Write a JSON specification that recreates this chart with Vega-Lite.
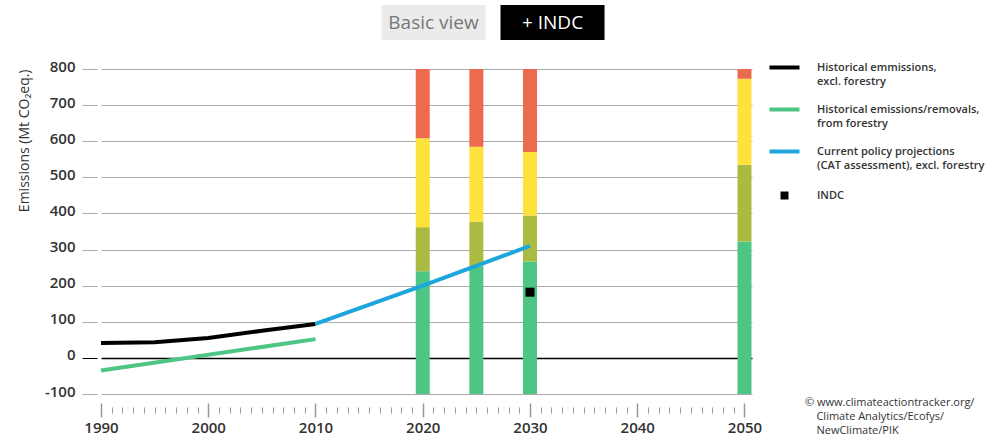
{
  "$schema": "https://vega.github.io/schema/vega-lite/v6.json",
  "background": "white",
  "padding": {"left": 17, "top": 5, "right": 0, "bottom": 0},
  "spacing": 19,
  "center": true,
  "resolve": {"scale": {"fill": "independent", "color": "independent", "shape": "independent"}},
  "config": {"view": {"stroke": null}, "font": "Open Sans"},
  "datasets": {
    "buttons": [
      {"button": "Basic view", "state": "inactive"},
      {"button": "+ INDC", "state": "active"}
    ],
    "ratings": [
      {"year": 2020, "rating": "Role model", "lo": -100, "hi": 240},
      {"year": 2020, "rating": "Sufficient", "lo": 240, "hi": 362},
      {"year": 2020, "rating": "Medium", "lo": 362, "hi": 608},
      {"year": 2020, "rating": "Inadequate", "lo": 608, "hi": 800},
      {"year": 2025, "rating": "Role model", "lo": -100, "hi": 254},
      {"year": 2025, "rating": "Sufficient", "lo": 254, "hi": 377},
      {"year": 2025, "rating": "Medium", "lo": 377, "hi": 585},
      {"year": 2025, "rating": "Inadequate", "lo": 585, "hi": 800},
      {"year": 2030, "rating": "Role model", "lo": -100, "hi": 267},
      {"year": 2030, "rating": "Sufficient", "lo": 267, "hi": 394},
      {"year": 2030, "rating": "Medium", "lo": 394, "hi": 570},
      {"year": 2030, "rating": "Inadequate", "lo": 570, "hi": 800},
      {"year": 2050, "rating": "Role model", "lo": -100, "hi": 322},
      {"year": 2050, "rating": "Sufficient", "lo": 322, "hi": 535},
      {"year": 2050, "rating": "Medium", "lo": 535, "hi": 773},
      {"year": 2050, "rating": "Inadequate", "lo": 773, "hi": 800}
    ],
    "lines": [
      {"series": "Historical emmissions, excl. forestry", "year": 1990, "value": 41},
      {"series": "Historical emmissions, excl. forestry", "year": 1995, "value": 43},
      {"series": "Historical emmissions, excl. forestry", "year": 2000, "value": 55},
      {"series": "Historical emmissions, excl. forestry", "year": 2005, "value": 75},
      {"series": "Historical emmissions, excl. forestry", "year": 2010, "value": 94},
      {"series": "Historical emissions/removals, from forestry", "year": 1990, "value": -35},
      {"series": "Historical emissions/removals, from forestry", "year": 2010, "value": 52},
      {"series": "Current policy projections (CAT assessment), excl. forestry", "year": 2010, "value": 94},
      {"series": "Current policy projections (CAT assessment), excl. forestry", "year": 2020, "value": 200},
      {"series": "Current policy projections (CAT assessment), excl. forestry", "year": 2030, "value": 310}
    ],
    "indc": [
      {"series": "INDC", "year": 2030, "value": 182}
    ]
  },
  "vconcat": [
    {
      "width": 323,
      "height": 35,
      "data": {"name": "buttons"},
      "encoding": {
        "x": {"field": "button", "type": "nominal", "sort": null, "axis": null,
              "scale": {"paddingInner": 0.126, "paddingOuter": 0.42, "align": 0}}
      },
      "layer": [
        {
          "mark": {"type": "bar"},
          "encoding": {
            "fill": {"field": "state", "type": "nominal", "legend": null,
                     "scale": {"domain": ["inactive", "active"], "range": ["#ebebeb", "#000000"]}}
          }
        },
        {
          "mark": {"type": "text", "fontSize": 19, "font": "Open Sans"},
          "encoding": {
            "text": {"field": "button"},
            "color": {"field": "state", "type": "nominal", "legend": null,
                      "scale": {"domain": ["inactive", "active"], "range": ["#777777", "#ffffff"]}}
          }
        }
      ]
    },
    {
      "width": 651,
      "height": 325,
      "title": {
        "text": ["© www.climateactiontracker.org/", "\u200b\u00a0\u00a0\u00a0\u00a0Climate Analytics/Ecofys/", "\u200b\u00a0\u00a0\u00a0\u00a0NewClimate/PIK"],
        "orient": "bottom", "anchor": "end", "align": "left", "frame": "group",
        "fontSize": 11, "fontWeight": "normal", "color": "#333", "lineHeight": 14,
        "font": "Open Sans", "dx": 53, "dy": -38, "offset": 0
      },
      "encoding": {
        "x": {
          "field": "year", "type": "quantitative",
          "scale": {"domain": [1990, 2050.7], "nice": false, "zero": false, "padding": 0},
          "axis": {
            "title": null,
            "values": [1990,1991,1992,1993,1994,1995,1996,1997,1998,1999,2000,2001,2002,2003,2004,2005,2006,2007,2008,2009,2010,2011,2012,2013,2014,2015,2016,2017,2018,2019,2020,2021,2022,2023,2024,2025,2026,2027,2028,2029,2030,2031,2032,2033,2034,2035,2036,2037,2038,2039,2040,2041,2042,2043,2044,2045,2046,2047,2048,2049,2050],
            "format": "d",
            "labelExpr": "datum.value % 10 === 0 ? datum.label : ''",
            "domain": false, "grid": false, "offset": 9,
            "tickColor": "#999",
            "tickSize": {"condition": {"test": "datum.value % 10 === 0", "value": 14}, "value": 10},
            "tickDash": {"condition": {"test": "datum.value % 10 === 0", "value": [20, 0]}, "value": [0, 4, 6, 20]},
            "tickWidth": {"condition": {"test": "datum.value % 10 === 0", "value": 1.5}, "value": 1},
            "labelPadding": 3, "labelFontSize": 15, "labelFontWeight": 600, "labelColor": "#333",
            "labelFlush": false, "labelOverlap": false
          }
        },
        "y": {
          "field": "value", "type": "quantitative",
          "scale": {"domain": [-100, 800], "nice": false, "zero": false, "padding": 0},
          "axis": {
            "title": "Emissions (Mt CO₂eq.)",
            "values": [-100, 0, 100, 200, 300, 400, 500, 600, 700, 800],
            "labelExpr": "'' + datum.value",
            "domain": false, "grid": true, "offset": 4,
            "gridColor": {"condition": {"test": "datum.value === 0", "value": "#000"}, "value": "#aaa"},
            "gridWidth": {"condition": {"test": "datum.value === 0", "value": 1.5}, "value": 1},
            "tickColor": {"condition": {"test": "datum.value === 0", "value": "#000"}, "value": "#aaa"},
            "tickSize": 15, "labelPadding": 7, "labelFontSize": 15, "labelFontWeight": 600,
            "labelColor": "#333", "labelOffset": -3,
            "titleFontSize": 14, "titleFontWeight": "normal", "titleColor": "#333",
            "titleAnchor": "end", "titlePadding": 13
          }
        }
      },
      "layer": [
        {
          "data": {"name": "ratings"},
          "mark": {"type": "bar", "size": 14},
          "encoding": {
            "y": {"field": "lo", "type": "quantitative"},
            "y2": {"field": "hi"},
            "fill": {"field": "rating", "type": "nominal", "legend": null,
                     "scale": {"domain": ["Role model", "Sufficient", "Medium", "Inadequate"],
                               "range": ["#4dc584", "#abbb42", "#fde23c", "#ec6a4d"]}}
          }
        },
        {
          "data": {"name": "lines"},
          "mark": {"type": "line", "strokeWidth": 4},
          "encoding": {
            "color": {
              "field": "series", "type": "nominal",
              "scale": {
                "domain": ["Historical emmissions, excl. forestry", "Historical emissions/removals, from forestry", "Current policy projections (CAT assessment), excl. forestry", "INDC"],
                "range": ["#000000", "#4dc584", "#1da6dc", "#000000"]
              },
              "legend": {
                "title": null, "orient": "none", "legendX": 678, "legendY": -7,
                "symbolSize": 25, "symbolStrokeWidth": 4, "labelOffset": 27,
                "labelFontSize": 11, "labelFontWeight": 600, "labelColor": "#333", "labelFont": "Open Sans",
                "rowPadding": 14, "padding": 0, "labelLimit": 300,
                "encode": {"labels": {"update": {"lineHeight": {"value": 14}}}},
                "labelExpr": "datum.label === 'Historical emmissions, excl. forestry' ? ['Historical emmissions,', 'excl. forestry'] : datum.label === 'Historical emissions/removals, from forestry' ? ['Historical emissions/removals,', 'from forestry'] : datum.label === 'Current policy projections (CAT assessment), excl. forestry' ? ['Current policy projections', '(CAT assessment), excl. forestry'] : datum.label"
              }
            }
          }
        },
        {
          "data": {"name": "indc"},
          "mark": {"type": "point", "filled": false, "size": 25, "strokeWidth": 5, "opacity": 1},
          "encoding": {
            "color": {"field": "series", "type": "nominal"},
            "shape": {
              "field": "series", "type": "nominal",
              "scale": {
                "domain": ["Historical emmissions, excl. forestry", "Historical emissions/removals, from forestry", "Current policy projections (CAT assessment), excl. forestry", "INDC"],
                "range": ["M-6,0H6", "M-6,0H6", "M-6,0H6", "M-0.8,-0.8H0.8V0.8H-0.8Z"]
              },
              "legend": {
                "title": null, "orient": "none", "legendX": 678, "legendY": -7,
                "symbolSize": 25, "symbolStrokeWidth": 4, "labelOffset": 27,
                "labelFontSize": 11, "labelFontWeight": 600, "labelColor": "#333", "labelFont": "Open Sans",
                "rowPadding": 14, "padding": 0, "labelLimit": 300,
                "encode": {"labels": {"update": {"lineHeight": {"value": 14}}}},
                "labelExpr": "datum.label === 'Historical emmissions, excl. forestry' ? ['Historical emmissions,', 'excl. forestry'] : datum.label === 'Historical emissions/removals, from forestry' ? ['Historical emissions/removals,', 'from forestry'] : datum.label === 'Current policy projections (CAT assessment), excl. forestry' ? ['Current policy projections', '(CAT assessment), excl. forestry'] : datum.label"
              }
            }
          }
        }
      ]
    }
  ]
}
